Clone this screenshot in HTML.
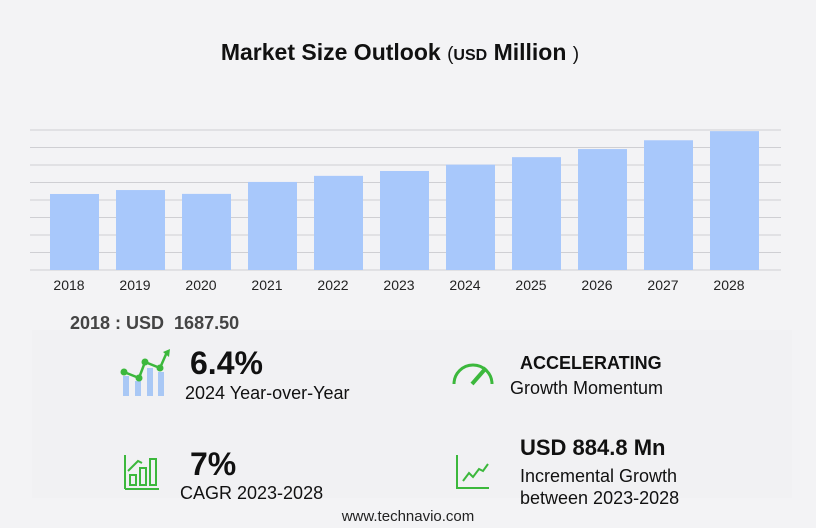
<!DOCTYPE html>
<html><head><meta charset="utf-8"><style>
body{margin:0;background:#f3f3f5;font-family:"Liberation Sans","DejaVu Sans",sans-serif;}
#root{position:relative;width:816px;height:528px;overflow:hidden;background:#f3f3f5;}
.t{position:absolute;white-space:nowrap;color:#111;}
</style></head><body>
<div id="root">
<div class="t" style="left:0;width:800px;text-align:center;top:39px;font-size:23px;font-weight:bold;">Market Size Outlook <span style="font-weight:normal;font-size:19px">(</span><span style="font-size:16px">USD</span> Million <span style="font-weight:normal;font-size:19px">)</span></div>
<svg id="chart" width="816" height="300" style="position:absolute;left:0;top:0"></svg>
<div style="position:absolute;left:32px;top:330px;width:760px;height:168px;background:#f1f1f3"></div>
<div class="t" style="left:70px;top:313px;font-size:18px;font-weight:bold;color:#444">2018 : USD&nbsp; 1687.50</div>
<svg style="position:absolute;left:118px;top:348px" width="56" height="50">
<rect x="5" y="28" width="6" height="20" fill="#a9c8f5"/><rect x="17" y="33" width="6" height="15" fill="#a9c8f5"/><rect x="29" y="20" width="6" height="28" fill="#a9c8f5"/><rect x="40" y="24" width="6" height="24" fill="#a9c8f5"/>
<polyline points="6,24 21,30 27,14 42,20 49,4" fill="none" stroke="#3cb83c" stroke-width="2.5"/>
<circle cx="6" cy="24" r="3.5" fill="#3cb83c"/><circle cx="21" cy="30" r="3.5" fill="#3cb83c"/><circle cx="27" cy="14" r="3.5" fill="#3cb83c"/><circle cx="42" cy="20" r="3.5" fill="#3cb83c"/><polygon points="45,4 52,1 51,9" fill="#3cb83c"/></svg>
<div class="t" style="left:190px;top:345px;font-size:32px;font-weight:bold">6.4%</div>
<div class="t" style="left:185px;top:383px;font-size:18px">2024 Year-over-Year</div>
<svg style="position:absolute;left:450px;top:358px" width="46" height="30"><path d="M4,26 A19,19 0 0 1 42,26" fill="none" stroke="#3cb83c" stroke-width="3"/><line x1="22" y1="26" x2="36" y2="10" stroke="#3cb83c" stroke-width="4"/></svg>
<div class="t" style="left:520px;top:353px;font-size:18px;font-weight:bold">ACCELERATING</div>
<div class="t" style="left:510px;top:378px;font-size:18px">Growth Momentum</div>
<svg style="position:absolute;left:124px;top:455px" width="36" height="36"><g fill="none" stroke="#3cb83c" stroke-width="2"><rect x="6" y="20" width="6" height="10"/><rect x="16" y="13" width="6" height="17"/><rect x="26" y="4" width="6" height="26"/><line x1="1" y1="0" x2="1" y2="34"/><line x1="1" y1="34" x2="35" y2="34"/><polyline points="4,16 14,6 18,8"/></g></svg>
<div class="t" style="left:190px;top:446px;font-size:32px;font-weight:bold">7%</div>
<div class="t" style="left:180px;top:483px;font-size:18px">CAGR 2023-2028</div>
<svg style="position:absolute;left:455px;top:455px" width="36" height="36"><g fill="none" stroke="#3cb83c" stroke-width="2"><polyline points="2,0 2,33 34,33"/><polyline points="8,26 14,18 18,22 24,14 28,16 33,9"/></g></svg>
<div class="t" style="left:520px;top:435px;font-size:22px;font-weight:bold">USD 884.8 Mn</div>
<div class="t" style="left:520px;top:465px;font-size:18px;line-height:22px">Incremental Growth<br>between 2023-2028</div>
<div class="t" style="left:0;width:816px;text-align:center;top:508px;font-size:15px;color:#222">www.technavio.com</div>
</div>
<script>
const years=["2018","2019","2020","2021","2022","2023","2024","2025","2026","2027","2028"];
const values=[1687.5,1775,1690,1955,2090,2198,2339,2505,2685,2880,3083];
const gridTicks=[0,388,777,1165,1554,1942,2331,2719,3108];
const svg=document.getElementById('chart');const NS="http://www.w3.org/2000/svg";
const y=v=>270-v*(140/3108);const x=i=>50+i*66;
gridTicks.forEach(t=>{const l=document.createElementNS(NS,'line');
l.setAttribute('x1',30);l.setAttribute('x2',781);l.setAttribute('y1',y(t));l.setAttribute('y2',y(t));
l.setAttribute('stroke','#cfcfd3');l.setAttribute('stroke-width','1');


svg.appendChild(l);});
values.forEach((v,i)=>{const r=document.createElementNS(NS,'rect');
r.setAttribute('x',x(i));r.setAttribute('y',y(v));r.setAttribute('width',49);r.setAttribute('height',270-y(v));r.setAttribute('fill','#a8c8fb');


svg.appendChild(r);
const t=document.createElementNS(NS,'text');t.setAttribute('x',x(i)+19);t.setAttribute('y',290);t.setAttribute('text-anchor','middle');t.setAttribute('font-size','14');t.setAttribute('fill','#222');t.setAttribute('font-family','Liberation Sans, sans-serif');t.textContent=years[i];


svg.appendChild(t);});
</script>
</body></html>
